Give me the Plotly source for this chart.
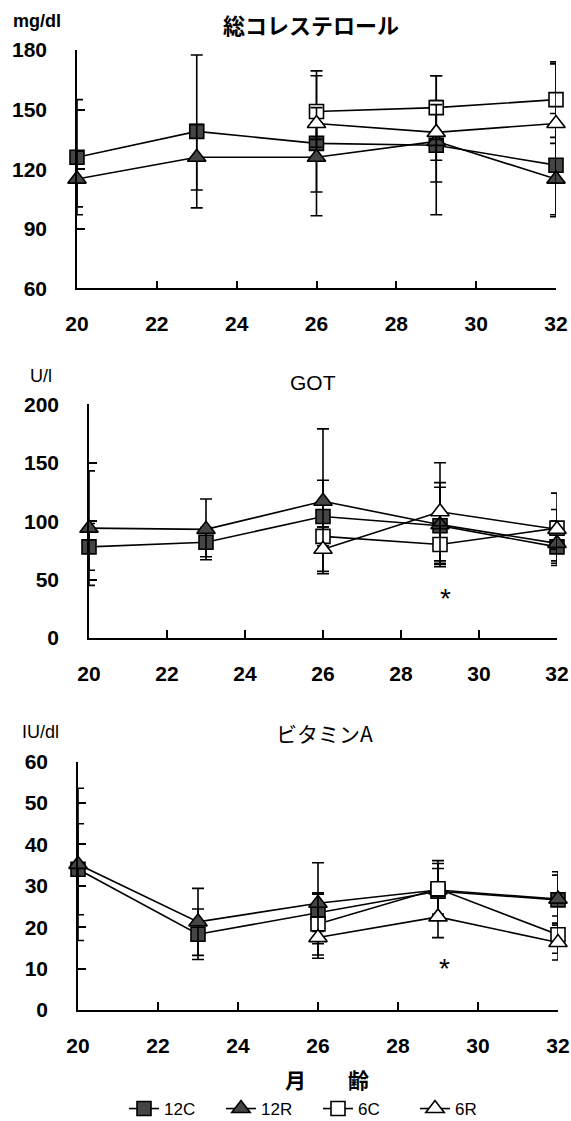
import plotly.graph_objects as go

W, H = 571, 1121

# ---------------- data ----------------
months_all = [20, 23, 26, 29, 32]
months_6 = [26, 29, 32]
series_names = ["12C", "12R", "6C", "6R"]

# 総コレステロール (mg/dl)
chol_12C = [126, 139, 133, 132, 122]
chol_12C_sd = [29, 38.5, 36.5, 35, 26]
chol_12R = [115, 126, 126, 134, 115]
chol_12R_sd = [14, 16.5, 17.5, 20.5, 18]
chol_6C = [149, 151, 155]
chol_6C_sd = [18, 16, 19]
chol_6R = [143, 138.5, 143]
chol_6R_sd = [8, 14, 30]

# GOT (U/l)
got_12C = [78, 82, 104, 96, 78]
got_12C_sd = [20, 12.5, 31, 33, 12]
got_12R = [94, 93, 117, 97, 81]
got_12R_sd = [49, 26, 62, 36, 19]
got_6C = [87, 80, 94]
got_6C_sd = [8, 16, 30]
got_6R = [76, 108, 93]
got_6R_sd = [19, 42, 17]

# ビタミンA (IU/dl)
vita_12C = [34, 18.3, 23.5, 28.7, 26.6]
vita_12C_sd = [11, 6.1, 4.5, 5.5, 6.8]
vita_12R = [35.2, 21.3, 25.8, 29, 26.8]
vita_12R_sd = [18.4, 8.1, 9.8, 6.4, 5.8]
vita_6C = [20.8, 29.3, 18.2]
vita_6C_sd = [7.5, 6.8, 4.5]
vita_6R = [17.5, 22.5, 16.3]
vita_6R_sd = [5, 5, 4.2]

x_ticks = [20, 22, 24, 26, 28, 30, 32]
chol_ticks = [60, 90, 120, 150, 180]
got_ticks = [0, 50, 100, 150, 200]
vita_ticks = [0, 10, 20, 30, 40, 50, 60]

# ---------------- styling ----------------
LAT = "Liberation Sans, Arial, sans-serif"
CJK = "Noto Sans CJK JP, sans-serif"
FILL = "#454545"

styles = {
    "12C": dict(symbol="square", color=FILL, size=14),
    "12R": dict(symbol="triangle-up", color=FILL, size=16),
    "6C": dict(symbol="square", color="white", size=14),
    "6R": dict(symbol="triangle-up", color="white", size=16),
}

panels = [
    dict(xa="x", ya="y",
         data=[(months_all, chol_12C, chol_12C_sd), (months_all, chol_12R, chol_12R_sd),
               (months_6, chol_6C, chol_6C_sd), (months_6, chol_6R, chol_6R_sd)]),
    dict(xa="x2", ya="y2",
         data=[(months_all, got_12C, got_12C_sd), (months_all, got_12R, got_12R_sd),
               (months_6, got_6C, got_6C_sd), (months_6, got_6R, got_6R_sd)]),
    dict(xa="x3", ya="y3",
         data=[(months_all, vita_12C, vita_12C_sd), (months_all, vita_12R, vita_12R_sd),
               (months_6, vita_6C, vita_6C_sd), (months_6, vita_6R, vita_6R_sd)]),
]

fig = go.Figure()
for pi, p in enumerate(panels):
    for name, (xs, ys, sd) in zip(series_names, p["data"]):
        st = styles[name]
        fig.add_trace(go.Scatter(
            x=xs, y=ys, xaxis=p["xa"], yaxis=p["ya"],
            mode="lines+markers", name=name, showlegend=(pi == 2),
            line=dict(color="black", width=1.6),
            marker=dict(symbol=st["symbol"], size=st["size"], color=st["color"],
                        line=dict(color="black", width=1.6)),
            error_y=dict(type="data", array=sd, symmetric=True,
                         color="black", thickness=1.6, width=6),
            cliponaxis=False,
        ))

def px_x(v):
    return v / W

def px_y(v):
    return 1 - v / H

# plot boxes in pixels: (left, right, top, bottom)
boxes = [(77, 556, 50, 288.3), (89, 557, 404.3, 638), (78, 558, 761.7, 1010)]
yranges = [[60, 180], [0, 200], [0, 60]]
yticks = [chol_ticks, got_ticks, vita_ticks]

TICKFONT = dict(family=LAT, size=21, color="black", weight="bold")

layout = dict(
    template="none",
    width=W, height=H, margin=dict(l=0, r=0, t=0, b=0, autoexpand=False),
    paper_bgcolor="white", plot_bgcolor="white",
    showlegend=True,
    legend=dict(orientation="h", x=px_x(318), xanchor="center",
                y=px_y(1109), yanchor="middle",
                font=dict(family=LAT, size=17, color="black"),
                entrywidth=52, entrywidthmode="pixels",
                itemwidth=30, tracegroupgap=0, bgcolor="rgba(0,0,0,0)"),
)
for i, (l, r, t, b) in enumerate(boxes):
    sfx = "" if i == 0 else str(i + 1)
    layout["xaxis" + sfx] = dict(
        domain=[px_x(l), px_x(r)], anchor="y" + sfx, range=[20, 32], automargin=False,
        tickvals=x_ticks, ticks="inside", ticklen=8, tickwidth=1.6, tickcolor="black",
        showline=True, linecolor="black", linewidth=1.6, showgrid=False, zeroline=False,
        tickfont=TICKFONT, ticklabelstandoff=16,
    )
    layout["yaxis" + sfx] = dict(
        domain=[px_y(b), px_y(t)], anchor="x" + sfx, range=yranges[i], automargin=False,
        tickvals=yticks[i], ticks="inside", ticklen=8, tickwidth=1.6, tickcolor="black",
        showline=True, linecolor="black", linewidth=1.6, showgrid=False, zeroline=False,
        tickfont=TICKFONT, ticklabelstandoff=24,
    )

fig.update_layout(**layout)

def note(text, x, y, size, family, weight="normal"):
    fig.add_annotation(text=text, x=px_x(x), y=px_y(y), xref="paper", yref="paper",
                       showarrow=False, xanchor="center", yanchor="middle",
                       font=dict(family=family, size=size, color="black", weight=weight))

note("総コレステロール", 311, 24, 22, CJK, "bold")
note("mg/dl", 37, 21, 18, LAT, "bold")
note("GOT", 313, 382, 21, LAT)
note("U/l", 41, 376, 18, LAT)
note("ビタミンA", 324, 733, 21, CJK)
note("IU/dl", 40, 732, 18, LAT)
note("月\u3000\u3000齢", 327, 1079, 21, CJK, "bold")

# significance marks
fig.add_annotation(text="*", x=29.15, y=34, xref="x2", yref="y2", showarrow=False,
                   font=dict(family=LAT, size=28, color="black"))
fig.add_annotation(text="*", x=29.15, y=10, xref="x3", yref="y3", showarrow=False,
                   font=dict(family=LAT, size=28, color="black"))

fig.write_html("out.html", config={"displayModeBar": False},
               post_script="document.body.style.margin='0';document.body.style.overflow='hidden';")
